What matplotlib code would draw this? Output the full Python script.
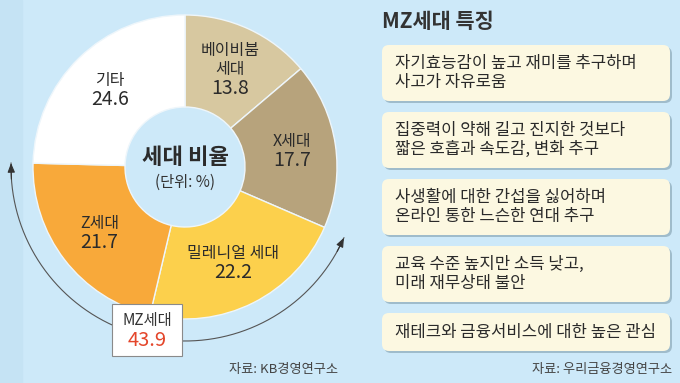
import matplotlib.pyplot as plt
import numpy as np
from matplotlib.patches import FancyBboxPatch, Rectangle

plt.rcParams['font.family'] = ['Noto Sans CJK KR', 'DejaVu Sans']

# data
generations = ['베이비붐\n세대', 'X세대', '밀레니얼 세대', 'Z세대', '기타']
shares = [13.8, 17.7, 22.2, 21.7, 24.6]
mz_share = 43.9
features = [
    '자기효능감이 높고 재미를 추구하며\n사고가 자유로움',
    '집중력이 약해 길고 진지한 것보다\n짧은 호흡과 속도감, 변화 추구',
    '사생활에 대한 간섭을 싫어하며\n온라인 통한 느슨한 연대 추구',
    '교육 수준 높지만 소득 낮고,\n미래 재무상태 불안',
    '재테크와 금융서비스에 대한 높은 관심',
]

colors = ['#d7c8a0', '#b7a37c', '#fcd04c', '#f8a93a', '#ffffff']
bg = '#cde9f9'
txt = '#2b2b2b'

W, H = 680, 383
fig = plt.figure(figsize=(6.8, 3.83), dpi=100)
fig.patch.set_facecolor(bg)
ax = fig.add_axes([0, 0, 1, 1])


def Y(py):
    return H - py


ax.add_patch(Rectangle((0, 0), 22, H, color='#c5e3f4', zorder=0))

# donut
cx, cy, R, r_in = 185, Y(167), 152, 60
wedges, _ = ax.pie(shares, colors=colors, startangle=90, counterclock=False,
                   center=(cx, cy), radius=R,
                   wedgeprops=dict(width=R - r_in, edgecolor='#eef6fb', linewidth=1))
ax.set_xlim(0, W)
ax.set_ylim(0, H)
ax.set_aspect('equal')
ax.axis('off')

for w, name, val in zip(wedges, generations, shares):
    ang = np.deg2rad((w.theta1 + w.theta2) / 2)
    px = cx + 0.71 * R * np.cos(ang)
    py = cy + 0.71 * R * np.sin(ang)
    lines = name.split('\n')
    n = len(lines)
    for k, ln in enumerate(lines):
        ax.text(px, py - (k - n / 2) * 19, ln, ha='center', va='center',
                fontsize=11.5, color=txt)
    ax.text(px, py - (n - n / 2) * 19, f'{val:.1f}', ha='center', va='center',
            fontsize=14, color=txt)

ax.text(cx, Y(157), '세대 비율', ha='center', va='center', fontsize=16,
        fontweight='bold', color=txt)
ax.text(cx, Y(182), '(단위: %)', ha='center', va='center', fontsize=11, color='#333333')

# arc with arrows around MZ part
ra = 174
th = np.deg2rad(np.linspace(178.7, 336, 300))
ax.plot(cx + ra * np.cos(th), cy + ra * np.sin(th), color='#555555', lw=0.8, zorder=3)
for a_end, a_from in [(178.7, 184), (336, 331)]:
    e = np.deg2rad(a_end)
    f = np.deg2rad(a_from)
    ax.annotate('', xy=(cx + ra * np.cos(e), cy + ra * np.sin(e)),
                xytext=(cx + ra * np.cos(f), cy + ra * np.sin(f)),
                arrowprops=dict(arrowstyle='-|>,head_length=0.55,head_width=0.22',
                                color='#333333', lw=0.8, shrinkA=0, shrinkB=0),
                zorder=4)

ax.add_patch(Rectangle((112, Y(356)), 70, 52, facecolor='white',
                       edgecolor='#8a8a8a', lw=0.8, zorder=5))
ax.text(147, Y(320), 'MZ세대', ha='center', va='center', fontsize=11, color='#333333', zorder=6)
ax.text(147, Y(341), f'{mz_share:.1f}', ha='center', va='center', fontsize=14.5,
        color='#e4462b', zorder=6)

ax.text(338, Y(369), '자료: KB경영연구소', ha='right', va='center', fontsize=9.5, color='#444444')

# right panel
ax.text(382, Y(21), 'MZ세대 특징', ha='left', va='center', fontsize=15,
        fontweight='bold', color='#333333')

top = 45
for feat in features:
    lines = feat.split('\n')
    h = 20 + 18 * len(lines)
    shadow = FancyBboxPatch((384, Y(top + h) - 2), 288, h,
                            boxstyle='round,pad=0,rounding_size=7',
                            facecolor='#9fbccb', edgecolor='none', zorder=2)
    box = FancyBboxPatch((382, Y(top + h)), 288, h,
                         boxstyle='round,pad=0,rounding_size=7',
                         facecolor='#fcf8e1', edgecolor='none', zorder=3)
    ax.add_patch(shadow)
    ax.add_patch(box)
    mid = top + h / 2
    for k, ln in enumerate(lines):
        ax.text(395, Y(mid + (k - (len(lines) - 1) / 2) * 19), ln, ha='left',
                va='center', fontsize=12, color='#2a2a2a', zorder=4)
    top += h + 11

ax.text(672, Y(369), '자료: 우리금융경영연구소', ha='right', va='center', fontsize=9.5,
        color='#444444')

fig.savefig('out.png', dpi=100, facecolor=bg)
